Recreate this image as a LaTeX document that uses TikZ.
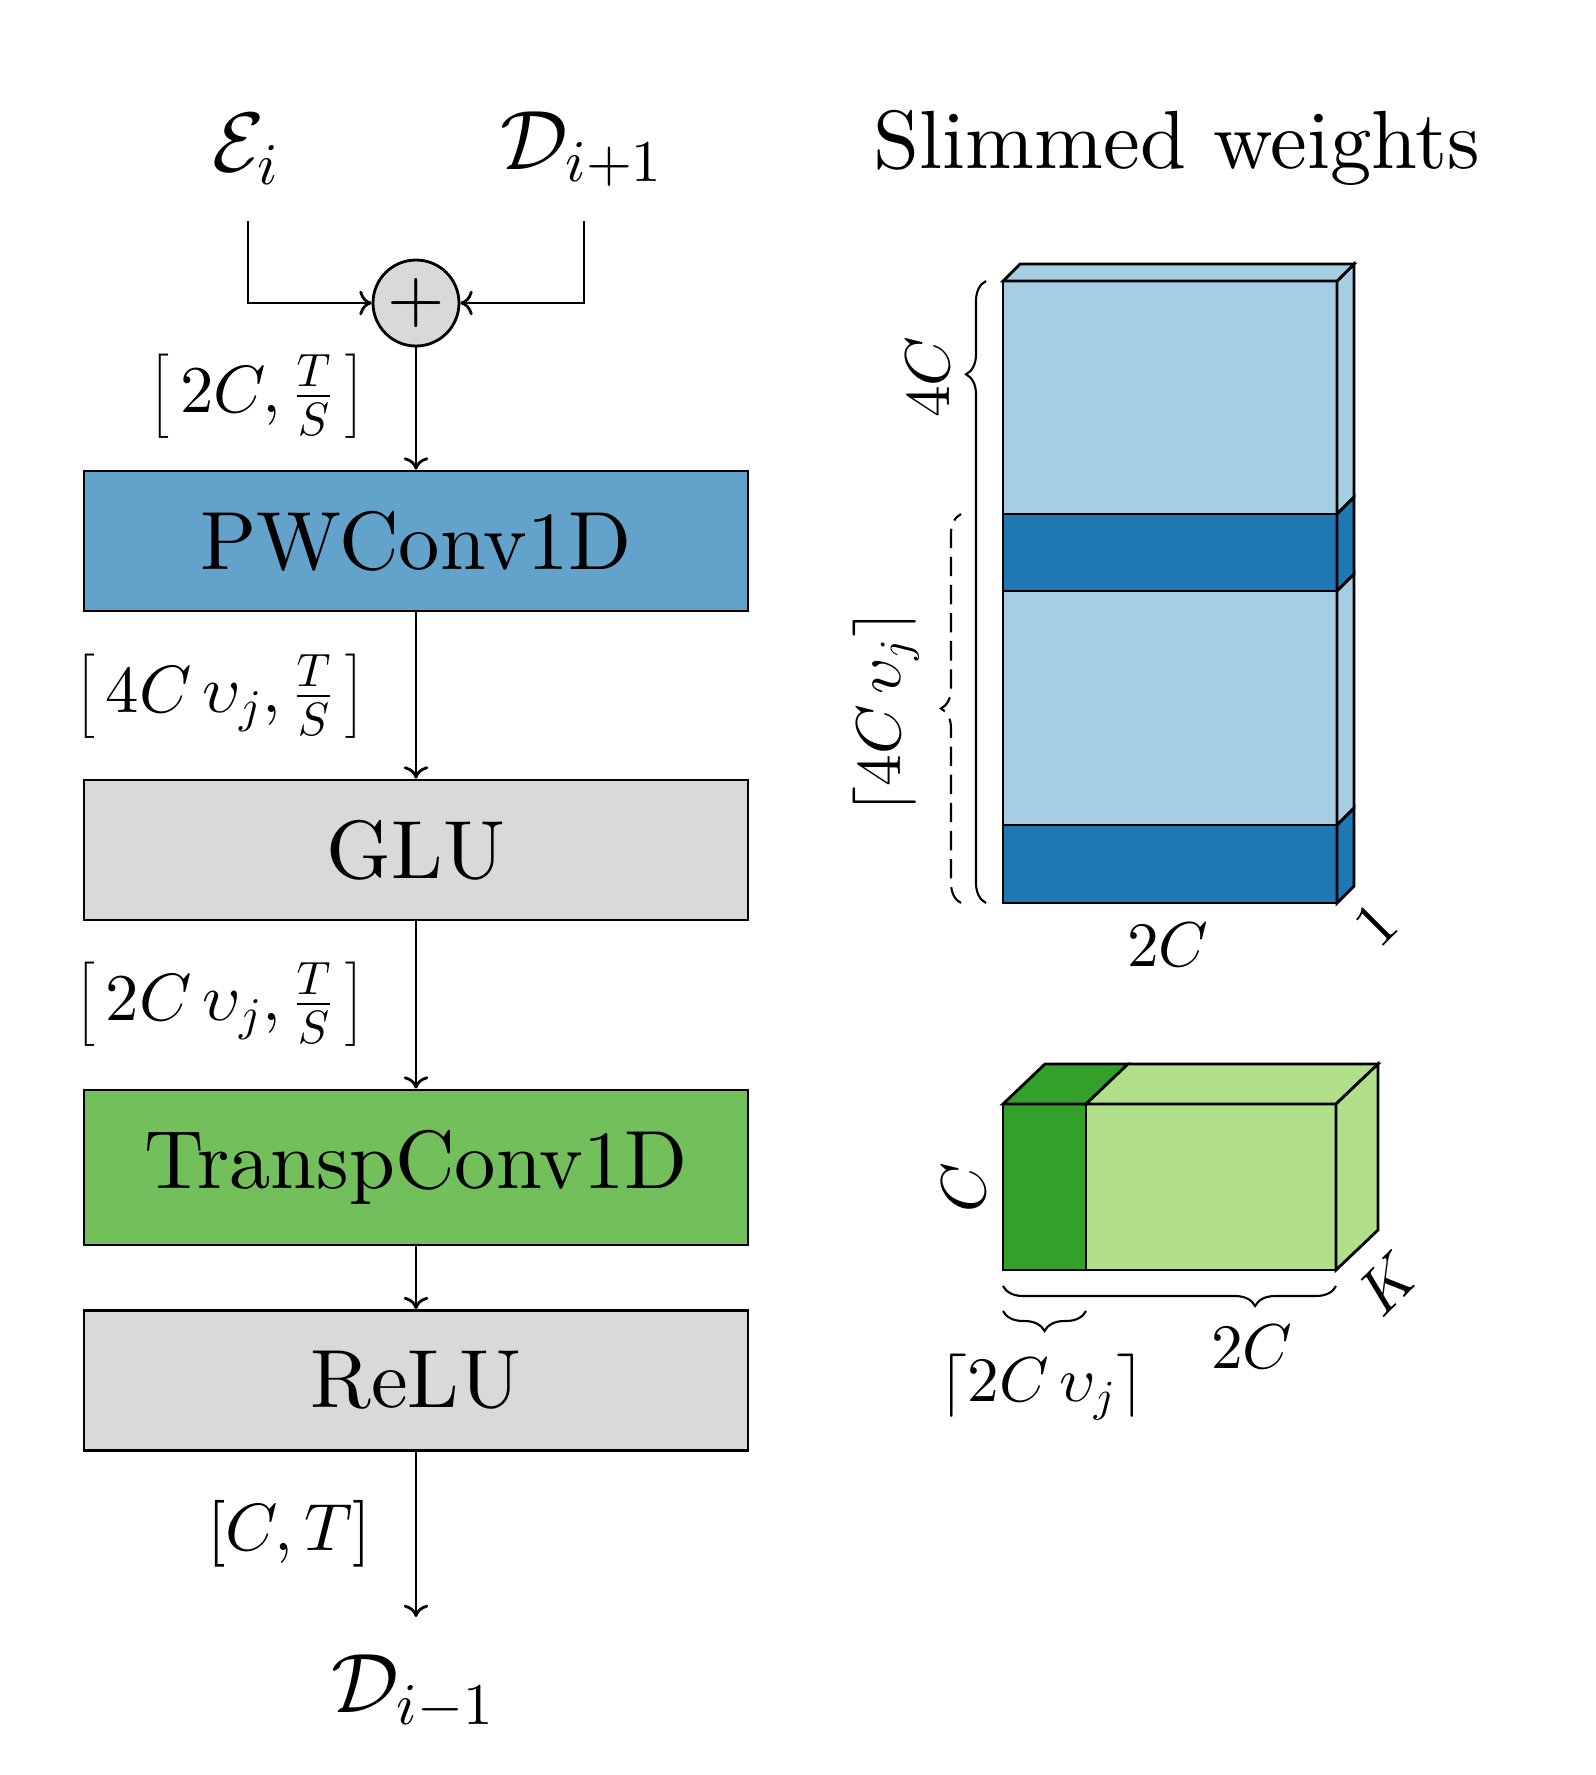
\documentclass[tikz,border=0pt]{standalone}
\usepackage{fontspec}
\setmainfont{lmroman10-regular.otf}
\DeclareFontShape{OML}{cmm}{m}{it}{<->cmmi10}{}
\DeclareFontShape{OT1}{cmr}{m}{n}{<->cmr10}{}
\DeclareFontShape{OMS}{cmsy}{m}{n}{<->cmsy10}{}
\usetikzlibrary{decorations.pathreplacing,arrows.meta}
\definecolor{lblue}{HTML}{A6CEE3}
\definecolor{dblue}{HTML}{1F78B4}
\definecolor{lgreen}{HTML}{B2DF8A}
\definecolor{dgreen}{HTML}{33A02C}
\colorlet{mblue}{lblue!50!dblue}
\colorlet{mgreen}{lgreen!50!dgreen}
\begin{document}
\begin{tikzpicture}[>={Computer Modern Rightarrow[width=7pt,length=3.5pt]},
  block/.style={draw, thick, minimum width=6.64cm, minimum height=1.4cm, font=\fontsize{23.5}{28}\selectfont},
  sum/.style={circle, draw, thick, fill=gray!30, minimum size=0.86cm, inner sep=0pt},
  dim/.style={font=\fontsize{19}{23}\selectfont, anchor=east, inner sep=0pt},
  io/.style={font=\fontsize{24}{28}\selectfont},
  lbl/.style={font=\fontsize{18}{22}\selectfont},
  curly/.style={decorate, decoration={brace, amplitude=0.2cm, aspect=#1}, semithick},
  curly/.default=0.5,
  flow/.style={->, thick}]
\useasboundingbox (0,0) rectangle (15.95,-17.75);

% decoder block
\node[io] (Ei) at (2.46,-1.49) {$\mathcal{E}_i$};
\node[io] (Dnext) at (5.82,-1.49) {$\mathcal{D}_{i+1}$};
\coordinate (Ein) at (2.48,-2.21);
\coordinate (Din) at (5.84,-2.21);
\node[sum] (sum) at (4.16,-3.03) {\fontsize{21}{25}\selectfont$+$};
\node[block, fill=mblue] (pw) at (4.16,-5.41) {PWConv1D};
\node[block, fill=gray!30] (glu) at (4.16,-8.50) {GLU};
\node[block, fill=mgreen, minimum height=1.55cm] (tc) at (4.16,-11.675) {TranspConv1D};
\node[block, fill=gray!30] (relu) at (4.16,-13.805) {ReLU};
\coordinate (out) at (4.16,-16.17);
\node[io] (Dprev) at (4.13,-16.92) {$\mathcal{D}_{i-1}$};

\draw[flow] (Ein) |- (sum);
\draw[flow] (Din) |- (sum);
\draw[flow] (sum) -- (pw);
\draw[flow] (pw) -- (glu);
\draw[flow] (glu) -- (tc);
\draw[flow] (tc) -- (relu);
\draw[flow] (relu) -- (out);

\node[dim] (d1) at (3.65,-3.96) {$\left[\,2C, \frac{T}{S}\,\right]$};
\node[dim] (d2) at (3.65,-6.96) {$\left[\,4C\,\upsilon_j, \frac{T}{S}\,\right]$};
\node[dim] (d3) at (3.65,-10.04) {$\left[\,2C\,\upsilon_j, \frac{T}{S}\,\right]$};
\node[dim] (d4) at (3.72,-15.34) {$[C, T]$};

% slimmed weights
\node[font=\fontsize{23.5}{28}\selectfont] (title) at (11.77,-1.48) {Slimmed weights};

\foreach \ya/\yb/\fc in {-2.81/-5.14/lblue, -5.14/-5.91/dblue, -5.91/-8.25/lblue, -8.25/-9.03/dblue}{
  \draw[thick, fill=\fc] (10.03,\ya) rectangle (13.37,\yb);
  \draw[thick, fill=\fc] (13.37,\ya) -- (13.54,\ya+0.17) -- (13.54,\yb+0.17) -- (13.37,\yb) -- cycle;
}
\draw[thick, fill=lblue] (10.03,-2.81) -- (10.20,-2.64) -- (13.54,-2.64) -- (13.37,-2.81) -- cycle;

\draw[curly=0.85] (9.86,-9.03) -- (9.86,-2.81);
\draw[curly, dash pattern=on 5.5pt off 2.5pt] (9.61,-9.03) -- (9.61,-5.14);
\node[lbl, rotate=90] (w4C) at (9.28,-3.77) {$4C$};
\node[lbl, rotate=90] (w4Cv) at (8.86,-7.12) {$\left\lceil 4C\,\upsilon_j\right\rceil$};
\node[lbl] (w2C) at (11.68,-9.45) {$2C$};
\node[lbl, rotate=45] (w1) at (13.76,-9.25) {$1$};

\draw[thick, fill=dgreen] (10.03,-12.70) rectangle (10.86,-11.04);
\draw[thick, fill=lgreen] (10.86,-12.70) rectangle (13.36,-11.04);
\draw[thick, fill=dgreen] (10.03,-11.04) -- (10.45,-10.64) -- (11.28,-10.64) -- (10.86,-11.04) -- cycle;
\draw[thick, fill=lgreen] (10.86,-11.04) -- (11.28,-10.64) -- (13.78,-10.64) -- (13.36,-11.04) -- cycle;
\draw[thick, fill=lgreen] (13.36,-11.04) -- (13.78,-10.64) -- (13.78,-12.30) -- (13.36,-12.70) -- cycle;

\draw[curly=0.243] (13.36,-12.86) -- (10.03,-12.86);
\draw[curly] (10.86,-13.11) -- (10.03,-13.11);
\node[lbl, rotate=90] (kC) at (9.64,-11.88) {$C$};
\node[lbl, rotate=45] (kK) at (13.88,-12.84) {$K$};
\node[lbl] (k2C) at (12.52,-13.47) {$2C$};
\node[lbl] (k2Cv) at (10.42,-13.87) {$\left\lceil 2C\,\upsilon_j\right\rceil$};
\end{tikzpicture}
\end{document}
